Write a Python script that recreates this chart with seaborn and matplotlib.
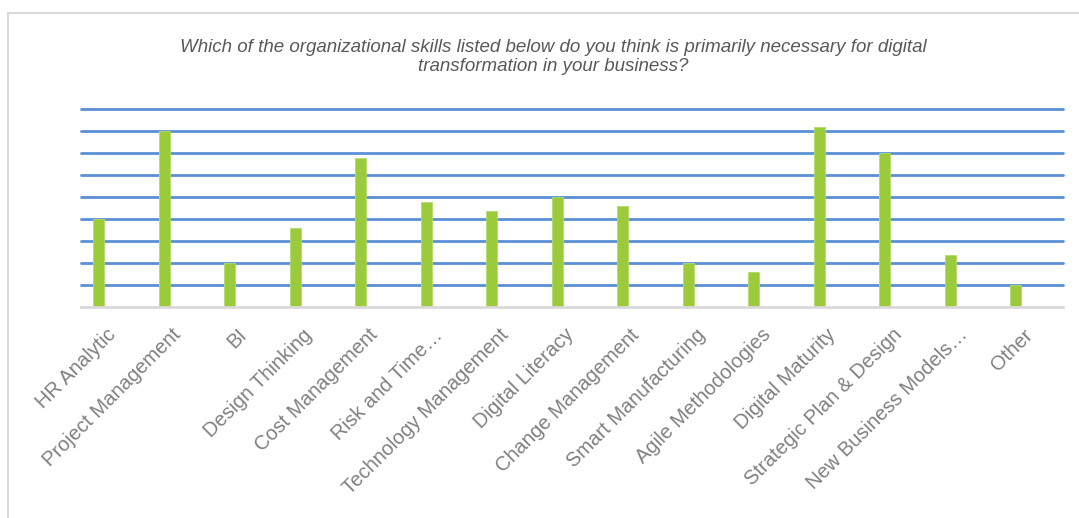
import matplotlib
matplotlib.use("Agg")
import matplotlib.pyplot as plt
import matplotlib.transforms as mtransforms
from matplotlib.patches import Rectangle
import seaborn as sns
import pandas as pd

categories = ["HR Analytic", "Project Management", "BI", "Design Thinking",
              "Cost Management", "Risk and Time…", "Technology Management",
              "Digital Literacy", "Change Management", "Smart Manufacturing",
              "Agile Methodologies", "Digital Maturity", "Strategic Plan & Design",
              "New Business Models…", "Other"]
values = [4.0, 8.0, 2.0, 3.6, 6.8, 4.8, 4.4, 5.0, 4.6, 2.0, 1.6, 8.2, 7.0, 2.4, 1.0]
gridline_values = [1, 2, 3, 4, 5, 6, 7, 8, 9]
title = ("Which of the organizational skills listed below do you think is primarily necessary for digital\n"
         "transformation in your business?")

sns.set_theme(style="white")
plt.rcParams['font.family'] = ['Liberation Sans', 'DejaVu Sans']

df = pd.DataFrame({"skill": categories, "value": values})

fig = plt.figure(figsize=(10.79, 5.18), dpi=100)
ax = fig.add_axes([81/1079, 1 - 307.3/518, (1063-81)/1079, (307.3-104.9)/518])

sns.barplot(data=df, x="skill", y="value", color="#9BCB3B", width=0.168,
            saturation=1, ax=ax, zorder=3, edgecolor="#B5DA6E", linewidth=0.6)

for g in gridline_values:
    ax.axhline(g, color="#5B8FD6", lw=2.0, zorder=1, clip_on=False)

ax.set_ylim(0, 9.2)
ax.set_xlim(-0.272, 14.718)
ax.set_yticks([])
ax.set_xlabel("")
ax.set_ylabel("")
for s in ["top", "left", "right"]:
    ax.spines[s].set_visible(False)
ax.spines["bottom"].set_color("#D9D9D9")
ax.spines["bottom"].set_linewidth(2.0)
ax.spines["bottom"].set_zorder(4)

ax.tick_params(axis="x", length=0, pad=0)
ax.set_xticks(range(len(categories)))
ax.set_xticklabels(categories, rotation=45, ha="right", va="top",
                   rotation_mode="anchor", fontsize=14.5, color="#808080")
offset = mtransforms.ScaledTranslation(7/100, -18/100, fig.dpi_scale_trans)
for lbl in ax.get_xticklabels():
    lbl.set_transform(lbl.get_transform() + offset)

fig.text(0.513, 0.89, title, ha="center", va="center", fontsize=13.5,
         style="italic", color="#595959", linespacing=1.2)

border = Rectangle((7.5/1079, -0.1), 1.2, 1 - 13.5/518 + 0.1, transform=fig.transFigure,
                   fill=False, edgecolor="#D9D9D9", lw=1.5)
fig.patches.append(border)

fig.savefig("out.png", dpi=100, facecolor="white")
